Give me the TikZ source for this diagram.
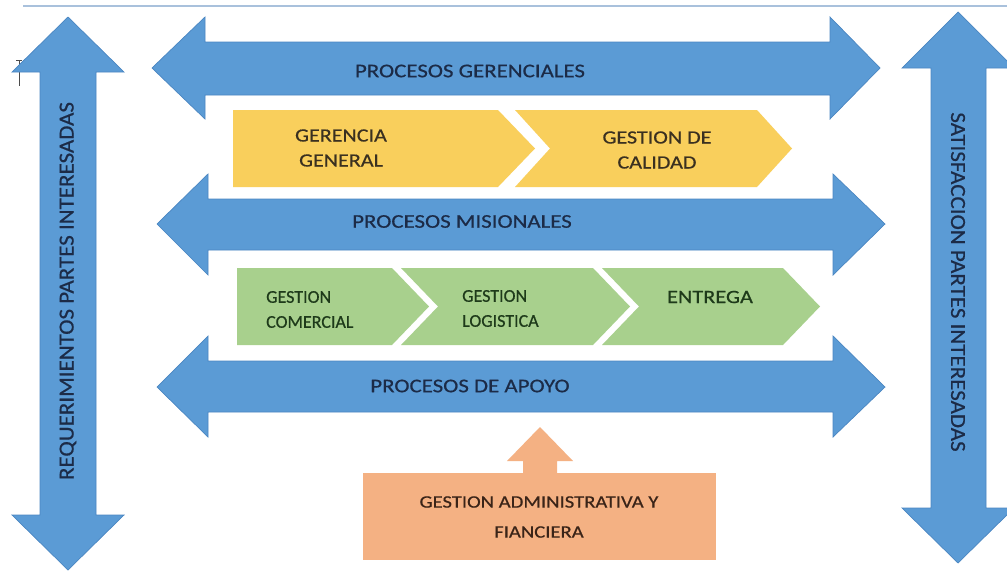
\documentclass[tikz,border=0pt]{standalone}
\usepackage{fontspec}
\setmainfont{Carlito}[FakeBold=0.55]
\newfontfamily\wfont{Carlito}[FakeStretch=1.18,FakeBold=0.55]
\newfontfamily\vfont{Carlito}[FakeStretch=1.07,FakeBold=0.55]
\definecolor{blu}{HTML}{5B9BD5}
\definecolor{bluedge}{HTML}{4A86C2}
\definecolor{yel}{HTML}{F9CF5C}
\definecolor{grn}{HTML}{A8D08D}
\definecolor{org}{HTML}{F4B183}
\definecolor{navy}{HTML}{1C2B47}
\definecolor{ytxt}{HTML}{3A3020}
\definecolor{gtxt}{HTML}{1E3A1A}
\definecolor{otxt}{HTML}{3A2418}
\definecolor{topline}{HTML}{A9C1DC}
\tikzset{
  bluearrow/.style={fill=blu, draw=bluedge, line width=0.7pt},
  yelshape/.style={fill=yel},
  grnshape/.style={fill=grn},
  orgshape/.style={fill=org},
  bluelabel/.style={text=navy, font=\wfont\fontsize{19.4}{24}\selectfont, inner sep=0pt},
  vlabel/.style={text=navy, font=\vfont\fontsize{21.5}{24}\selectfont, inner sep=0pt},
  yellabel/.style={text=ytxt, font=\wfont\fontsize{18.7}{25}\selectfont, align=center, inner sep=0pt},
  grnlabel/.style={text=gtxt, font=\fontsize{18}{25}\selectfont, align=left, inner sep=0pt},
  grnbig/.style={text=gtxt, font=\wfont\fontsize{18.9}{25}\selectfont, inner sep=0pt},
  orglabel/.style={text=otxt, font=\wfont\fontsize{17.5}{30}\selectfont, align=center, inner sep=0pt}
}
\begin{document}
\begin{tikzpicture}[x=1pt,y=-1pt]
\useasboundingbox (0,0) rectangle (1007,571);
\fill[white] (0,0) rectangle (1007,571);
% top line
\draw[topline, line width=1.5pt] (23,6) -- (1007,6);
% cursor mark
\draw[black!70, line width=0.8pt] (19,60) -- (19,86) (16,60) -- (22,60);
% left vertical double arrow
\draw[bluearrow] (68,17) -- (124,72) -- (96,72) -- (96,515) -- (124,515) -- (68,570)
  -- (12,515) -- (40,515) -- (40,72) -- (12,72) -- cycle;
% right vertical double arrow
\draw[bluearrow] (958,12) -- (1014,68) -- (986,68) -- (986,508) -- (1014,508) -- (958,563)
  -- (902,508) -- (931,508) -- (931,68) -- (902,68) -- cycle;
% horizontal arrow 1
\draw[bluearrow] (152,68) -- (205,17) -- (205,42) -- (830,42) -- (830,17) -- (880,68)
  -- (830,119) -- (830,95) -- (205,95) -- (205,119) -- cycle;
% horizontal arrow 2
\draw[bluearrow] (157,224) -- (208,174) -- (208,199) -- (833,199) -- (833,174) -- (885,224)
  -- (833,275) -- (833,250) -- (208,250) -- (208,275) -- cycle;
% horizontal arrow 3
\draw[bluearrow] (157,387) -- (208,336) -- (208,361) -- (833,361) -- (833,336) -- (885,387)
  -- (833,437) -- (833,412) -- (208,412) -- (208,437) -- cycle;
% yellow chevrons
\fill[yelshape] (233,110) -- (498,110) -- (535,148.5) -- (498,187) -- (233,187) -- cycle;
\fill[yelshape] (515,110) -- (757,110) -- (792,148.5) -- (757,187) -- (515,187) -- (550,148.5) -- cycle;
% green chevrons
\fill[grnshape] (237,268) -- (392,268) -- (429,306.5) -- (392,345) -- (237,345) -- cycle;
\fill[grnshape] (401,268) -- (593,268) -- (630,306.5) -- (593,345) -- (401,345) -- (438,306.5) -- cycle;
\fill[grnshape] (602,268) -- (783,268) -- (820,306.5) -- (783,345) -- (602,345) -- (639,306.5) -- cycle;
% orange box and up arrow
\fill[orgshape] (363,473) rectangle (716,560);
\fill[orgshape] (523,474) -- (523,461) -- (507,461) -- (540,427) -- (573,461) -- (557,461) -- (557,474) -- cycle;
% labels
\node[bluelabel] (pg) at (470,71) {PROCESOS GERENCIALES};
\node[bluelabel] (pm) at (462,221.5) {PROCESOS MISIONALES};
\node[bluelabel] (pa) at (470,386) {PROCESOS DE APOYO};
\node[vlabel, rotate=90] (req) at (68,291) {REQUERIMIENTOS PARTES INTERESADAS};
\node[vlabel, rotate=-90] (sat) at (958,282) {SATISFACCION PARTES INTERESADAS};
\node[yellabel] (gg) at (341,148) {GERENCIA\\GENERAL};
\node[yellabel] (gc) at (657,150) {GESTION DE\\CALIDAD};
\node[grnlabel, anchor=west] (gcom) at (266,309.5) {GESTION\\COMERCIAL};
\node[grnlabel, anchor=west] (glog) at (462,308.5) {GESTION\\LOGISTICA};
\node[grnbig] (ent) at (710,297) {ENTREGA};
\node[orglabel] (gaf) at (539,517) {GESTION ADMINISTRATIVA Y\\FIANCIERA};
\end{tikzpicture}
\end{document}
